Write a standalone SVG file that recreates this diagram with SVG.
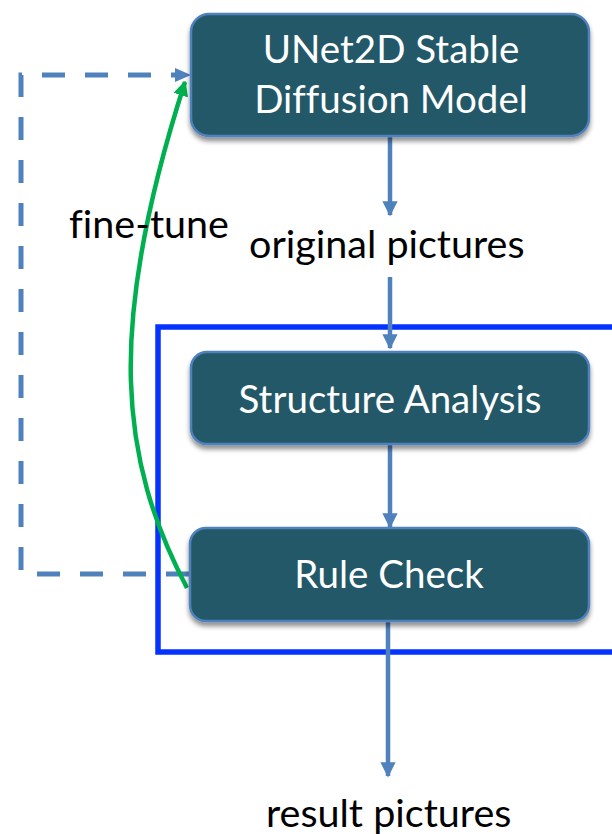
<svg xmlns="http://www.w3.org/2000/svg" width="612" height="834" viewBox="0 0 612 834">
  <style>
    .node rect { fill: #225868; stroke: #4F81BD; stroke-width: 2.5; filter: url(#shadow); }
    .node text { fill: #ffffff; font-family: Lato, "Open Sans", "Liberation Sans", sans-serif; font-size: 38.5px; text-anchor: middle; font-variant-ligatures: none; }
    .label { fill: #000000; font-family: Lato, "Open Sans", "Liberation Sans", sans-serif; font-size: 39.5px; font-variant-ligatures: none; }
    .flow { stroke: #4F81BD; stroke-width: 4.5; fill: none; marker-end: url(#blueHead); }
    .loop { stroke: #4F81BD; stroke-width: 5; fill: none; stroke-dasharray: 23 20; }
  </style>
  <defs>
    <filter id="shadow" x="-10%" y="-20%" width="120%" height="150%">
      <feGaussianBlur in="SourceAlpha" stdDeviation="2.5"/>
      <feOffset dx="0" dy="4" result="b"/>
      <feComponentTransfer><feFuncA type="linear" slope="0.45"/></feComponentTransfer>
      <feMerge><feMergeNode/><feMergeNode in="SourceGraphic"/></feMerge>
    </filter>
    <marker id="blueHead" viewBox="0 0 10 10" refX="9" refY="5" markerWidth="3.4" markerHeight="3.4" orient="auto" markerUnits="strokeWidth">
      <path d="M0,0 L10,5 L0,10 Z" fill="#4F81BD"/>
    </marker>
    <marker id="greenHead" viewBox="0 0 10 10" refX="9" refY="5" markerWidth="3.4" markerHeight="3.4" orient="auto" markerUnits="strokeWidth">
      <path d="M0,0 L10,5 L0,10 Z" fill="#00B050"/>
    </marker>
  </defs>

  <rect width="612" height="834" fill="#ffffff"/>

  <!-- grouping frame around analysis and check -->
  <rect id="frame" x="158" y="327" width="480" height="325" fill="none" stroke="#0433FF" stroke-width="5.5"/>

  <g id="connectors">
    <!-- dashed feedback loop from Rule Check back to the model -->
    <path class="loop" d="M189,574 H21 V75 H175"/>
    <path d="M175,68 L191,75 L175,82 Z" fill="#4F81BD"/>
    <path class="flow" d="M390,137 V215"/>
    <path class="flow" d="M390,277 V348"/>
    <path class="flow" d="M390,445 V527"/>
    <path class="flow" d="M388,622 V776"/>
    <!-- fine-tune curve -->
    <path d="M187,588 C120,460 105,330 185,82" fill="none" stroke="#00B050" stroke-width="4.5" marker-end="url(#greenHead)"/>
  </g>

  <g id="unet" class="node">
    <rect x="191" y="14" width="398" height="122" rx="18"/>
    <text x="391" y="63">UNet2D Stable</text>
    <text x="391" y="113">Diffusion Model</text>
  </g>

  <g id="structure" class="node">
    <rect x="191" y="352" width="398" height="92" rx="16"/>
    <text x="390" y="413">Structure Analysis</text>
  </g>

  <g id="rulecheck" class="node">
    <rect x="190" y="528" width="399" height="93" rx="16"/>
    <text x="389" y="588">Rule Check</text>
  </g>

  <g id="labels">
    <text class="label" x="69" y="238">fine-tune</text>
    <text class="label" x="249" y="258">original pictures</text>
    <text class="label" x="266" y="827">result pictures</text>
  </g>
</svg>
